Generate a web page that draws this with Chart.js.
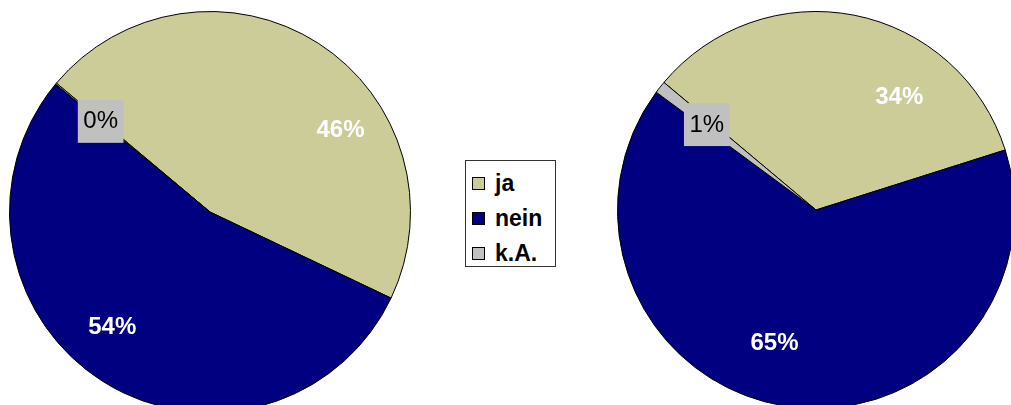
<!DOCTYPE html>
<html>
<head>
<meta charset="utf-8">
<script src="https://cdn.jsdelivr.net/npm/chart.js@4"></script>
<style>
  html, body { margin: 0; padding: 0; background: #fff; }
  body { width: 1011px; height: 405px; overflow: hidden; position: relative; font-family: "Liberation Sans", Arial, sans-serif; }
  .pie { position: absolute; }
  #pieLeft { left: 9px; top: 11px; width: 402px; height: 402px; }
  #pieRight { left: 617px; top: 11px; width: 398px; height: 398px; }
  #legend { position: absolute; left: 465px; top: 160px; width: 91px; height: 107px; box-sizing: border-box;
            border: 1px solid #333; background: #fff; padding-top: 5px; }
  .item { height: 35px; display: flex; align-items: center; padding-left: 6px; font-weight: bold; font-size: 23px; color: #000; }
  .sw { width: 11px; height: 11px; border: 1px solid #000; margin-right: 10px; }
</style>
</head>
<body>
<div class="pie" id="pieLeft"><canvas id="leftChart"></canvas></div>
<div id="legend"></div>
<div class="pie" id="pieRight"><canvas id="rightChart"></canvas></div>
<script>
const categories = ['ja', 'nein', 'k.A.'];
const leftValues = [46, 54, 0.1];
const rightValues = [34, 65, 1];
const sliceColors = ['#CCCC99', '#000080', '#C0C0C0'];

// percent labels, drawn at each arc's mid angle (shifted a bit like the original)
const sliceLabels = {
    id: 'sliceLabels',
    afterDatasetsDraw(chart, args, opts) {
        const ctx = chart.ctx;
        const meta = chart.getDatasetMeta(0);
        const data = chart.data.datasets[0].data;
        const total = data.reduce((a, b) => a + b, 0);
        meta.data.forEach((arc, i) => {
            const p = arc.getProps(['x', 'y', 'startAngle', 'endAngle', 'outerRadius'], true);
            const ang = (p.startAngle + p.endAngle) / 2 + opts.shift[i] * Math.PI / 180;
            const r = p.outerRadius * opts.dist[i];
            const x = p.x + Math.cos(ang) * r;
            const y = p.y + Math.sin(ang) * r;
            const txt = Math.round(data[i] / total * 100) + '%';
            ctx.save();
            ctx.textAlign = 'center';
            ctx.textBaseline = 'middle';
            if (i === 2) {
                ctx.font = '24px "Liberation Sans", Arial, sans-serif';
                const w = ctx.measureText(txt).width + 11;
                ctx.fillStyle = sliceColors[2];
                ctx.fillRect(x - w / 2, y - 21, w, 43);
                ctx.fillStyle = '#000';
            } else {
                ctx.font = 'bold 24px "Liberation Sans", Arial, sans-serif';
                ctx.fillStyle = '#fff';
            }
            ctx.fillText(txt, x, y + 1);
            ctx.restore();
        });
    }
};

function makePie(id, values, dist) {
    return new Chart(document.getElementById(id), {
        type: 'pie',
        data: {
            labels: categories,
            datasets: [{
                data: values,
                backgroundColor: sliceColors,
                borderColor: '#000',
                borderWidth: 1
            }]
        },
        options: {
            responsive: true,
            maintainAspectRatio: false,
            animation: false,
            rotation: 310,
            layout: { padding: 0 },
            events: [],
            plugins: {
                legend: { display: false },
                tooltip: { enabled: false },
                sliceLabels: { shift: [25, 8, 0], dist: dist }
            }
        },
        plugins: [sliceLabels]
    });
}

makePie('leftChart', leftValues, [0.77, 0.75, 0.71]);
makePie('rightChart', rightValues, [0.71, 0.70, 0.70]);

// legend box in the middle
const legend = document.getElementById('legend');
categories.forEach((c, i) => {
    const row = document.createElement('div');
    row.className = 'item';
    row.innerHTML = '<span class="sw" style="background:' + sliceColors[i] + '"></span>' + c;
    legend.appendChild(row);
});
</script>
</body>
</html>
